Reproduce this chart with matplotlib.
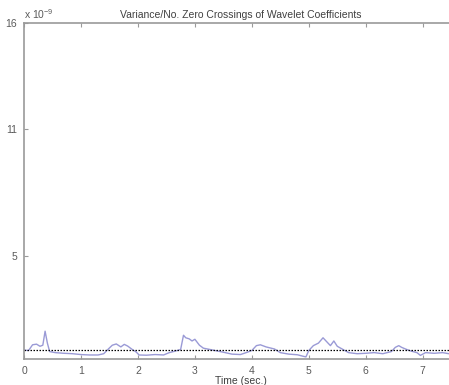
import matplotlib
matplotlib.use("Agg")
import matplotlib.pyplot as plt

plt.rcParams["font.family"] = ["Liberation Sans", "DejaVu Sans"]
plt.rcParams["mathtext.fontset"] = "custom"
plt.rcParams["mathtext.rm"] = "Liberation Sans"

# time (sec.) and variance / no. zero crossings (x 1e-9)
t = [0.0, 0.08, 0.15, 0.22, 0.28, 0.33, 0.37, 0.41, 0.45, 0.55, 0.7, 0.85, 1.0,
     1.15, 1.3, 1.4, 1.48, 1.55, 1.62, 1.7, 1.76, 1.82, 1.9, 1.97, 2.02, 2.15,
     2.3, 2.45, 2.55, 2.65, 2.75, 2.8, 2.84, 2.9, 2.95, 3.0, 3.08, 3.15, 3.3,
     3.5, 3.65, 3.8, 3.9, 4.0, 4.08, 4.15, 4.25, 4.4, 4.5, 4.65, 4.8, 4.9,
     4.95, 5.0, 5.08, 5.17, 5.25, 5.32, 5.38, 5.44, 5.5, 5.6, 5.7, 5.85, 6.0,
     6.15, 6.3, 6.45, 6.52, 6.58, 6.63, 6.7, 6.8, 6.9, 6.96, 7.05, 7.2, 7.35,
     7.46]
v = [0.57, 0.55, 0.82, 0.85, 0.75, 0.8, 1.46, 0.9, 0.5, 0.45, 0.42, 0.4, 0.36,
     0.34, 0.34, 0.4, 0.62, 0.8, 0.86, 0.72, 0.84, 0.76, 0.6, 0.48, 0.34, 0.33,
     0.36, 0.34, 0.45, 0.52, 0.6, 1.27, 1.15, 1.1, 1.0, 1.08, 0.8, 0.66, 0.58,
     0.47, 0.38, 0.36, 0.45, 0.55, 0.78, 0.82, 0.72, 0.62, 0.45, 0.38, 0.35,
     0.28, 0.25, 0.55, 0.78, 0.9, 1.15, 0.95, 0.78, 1.0, 0.75, 0.6, 0.45, 0.4,
     0.42, 0.45, 0.4, 0.5, 0.7, 0.78, 0.7, 0.62, 0.52, 0.45, 0.32, 0.45, 0.42,
     0.45, 0.4]
threshold = 0.57
yticks = [5, 11, 16]
xticks = [0, 1, 2, 3, 4, 5, 6, 7]

gray = "#5a5a5a"
fig = plt.figure(figsize=(4.49, 3.85), dpi=100)
ax = fig.add_axes([0.0535, 0.0675, 0.964, 0.874])

ax.plot(t, v, color="#9a9ad6", linewidth=1.0)
ax.axhline(threshold, color="black", linestyle=(0, (1.2, 1.2)), linewidth=0.9)

ax.set_xlim(0, 7.6)
ax.set_ylim(0.15, 16)
ax.set_xticks(xticks)
ax.set_yticks(yticks)
ax.tick_params(direction="in", length=3, labelsize=7.5, colors="#9a9a9a",
               labelcolor=gray, top=True, right=False, pad=5)
for s in ["left", "bottom", "top"]:
    ax.spines[s].set_color("#9a9a9a")
    ax.spines[s].set_linewidth(1.2)
ax.spines["right"].set_visible(False)

ax.set_title("Variance/No. Zero Crossings of Wavelet Coefficients",
             fontsize=7.5, color="#404040", pad=3)
ax.set_xlabel("Time (sec.)", fontsize=7.5, color="#404040", labelpad=0)
ax.text(0.0, 1.005, r"x 10$^{-9}$", transform=ax.transAxes, fontsize=7.5,
        color=gray, ha="left", va="bottom")

fig.savefig("out.png", dpi=100)
